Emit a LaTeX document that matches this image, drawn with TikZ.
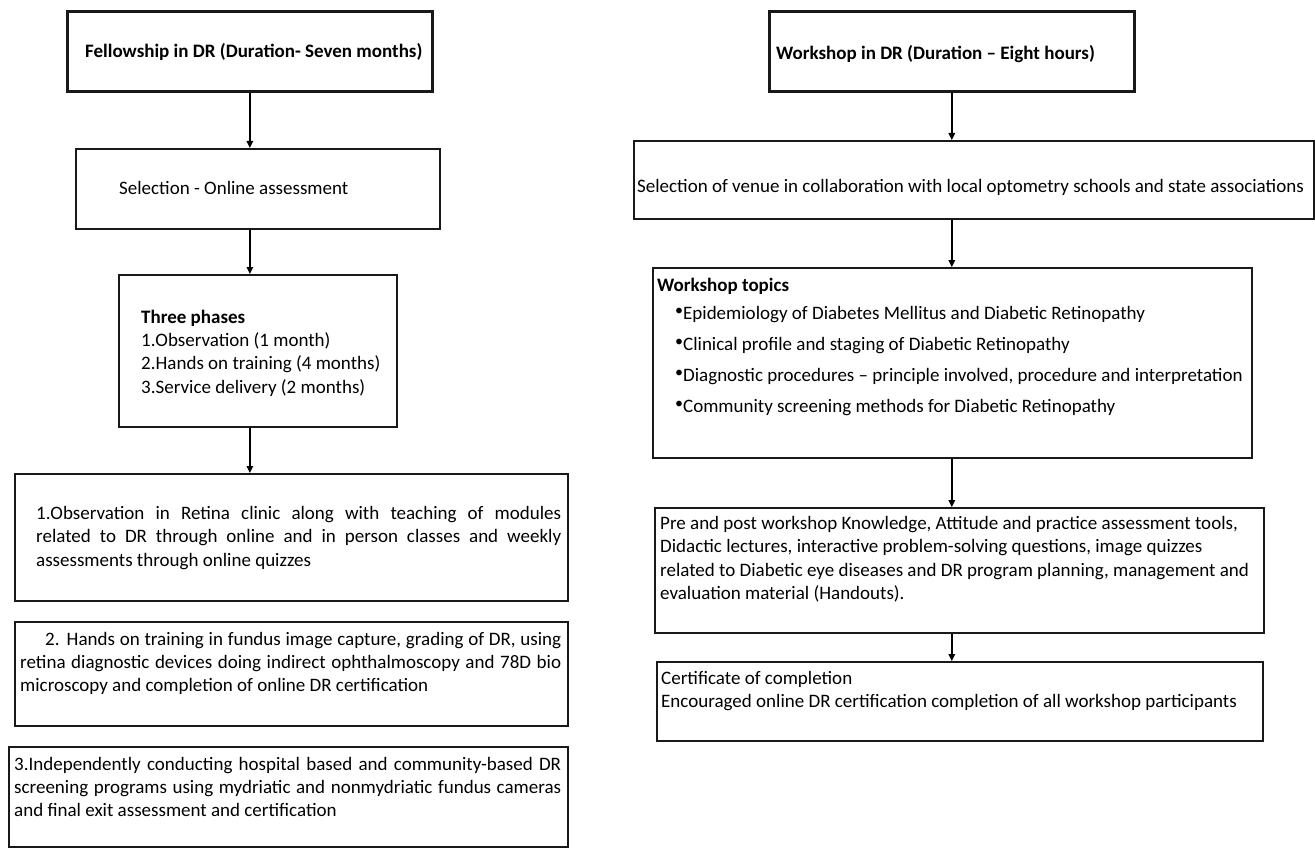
\documentclass[tikz,border=0pt]{standalone}
\usepackage{fontspec}
\setmainfont{Carlito}
\usetikzlibrary{arrows.meta}
\begin{document}
\begin{tikzpicture}[x=1pt,y=-1pt,
  boxL/.style={draw=black!90,line width=2.4pt,anchor=north west,inner sep=0pt},
  boxR/.style={draw=black!90,line width=1.8pt,anchor=north west,inner sep=0pt},
  txt/.style={inner sep=0pt,anchor=base west,font=\fontsize{19pt}{23.6pt}\selectfont,text=black},
  btxt/.style={txt,font=\fontsize{19pt}{23.6pt}\selectfont\bfseries},
  arr/.style={line width=1.4pt,-{Triangle[length=7pt,width=6.5pt]}}]
\newcommand{\bul}{{\fontsize{16pt}{16pt}\selectfont\raisebox{4pt}{•}}}
\useasboundingbox (0,0) rectangle (1315,848);
% ---------- left column boxes
\node[boxL,line width=2.8pt,minimum width=365pt,minimum height=80pt] (A) at (66,10) {};
\node[boxL,minimum width=364pt,minimum height=80pt] (B) at (75,148) {};
\node[boxL,minimum width=278pt,minimum height=152pt] (C) at (118,274) {};
\node[boxL,minimum width=553pt,minimum height=127pt] (D) at (14,473) {};
\node[boxL,minimum width=553pt,minimum height=104pt] (E) at (14,621) {};
\node[boxL,minimum width=559pt,minimum height=100pt] (F) at (8,746) {};
% ---------- right column boxes
\node[boxL,line width=2.6pt,minimum width=365pt,minimum height=80pt] (G) at (768,10) {};
\node[boxR,minimum width=680pt,minimum height=78pt] (H) at (633,140) {};
\node[boxR,minimum width=599pt,minimum height=190pt] (I) at (652,267) {};
\node[boxR,minimum width=609pt,minimum height=125pt] (J) at (654,507) {};
\node[boxR,minimum width=606pt,minimum height=79pt] (K) at (656,661) {};
% ---------- texts
\node[btxt] (tA) at (85,58) {Fellowship in DR (Duration- Seven months)};
\node[txt] (tB) at (119,194) {Selection - Online assessment};
\node[txt] (tC) at (141,323) {\parbox[t]{250pt}{\fontsize{19pt}{23.4pt}\selectfont\textbf{Three phases}\\1.Observation (1 month)\\2.Hands on training (4 months)\\3.Service delivery (2 months)}};
\node[txt] (tD) at (36,519) {\parbox[t]{525pt}{\fontsize{19pt}{23.8pt}\selectfont
  \makebox[\linewidth][s]{1.Observation in Retina clinic along with teaching of modules}\\
  \makebox[\linewidth][s]{related to DR through online and in person classes and weekly}\\
  assessments through online quizzes}};
\node[txt] (tE) at (20,645) {\parbox[t]{541pt}{\fontsize{19pt}{23.4pt}\selectfont
  \makebox[\linewidth][s]{\hspace*{25pt}2. Hands on training in fundus image capture, grading of DR, using}\\
  \makebox[\linewidth][s]{retina diagnostic devices doing indirect ophthalmoscopy and 78D bio}\\
  microscopy and completion of online DR certification}};
\node[txt] (tF) at (14,770) {\parbox[t]{547pt}{\fontsize{19pt}{23.2pt}\selectfont
  \makebox[\linewidth][s]{3.Independently conducting hospital based and community-based DR}\\
  \makebox[\linewidth][s]{screening programs using mydriatic and nonmydriatic fundus cameras}\\
  and final exit assessment and certification}};
\node[btxt] (tG) at (776,60) {Workshop in DR (Duration -- Eight hours)};
\node[txt] (tH) at (637,193) {Selection of venue in collaboration with local optometry schools and state associations};
\node[btxt] (tI) at (657,291) {Workshop topics};
\node[txt] (b1) at (675,319) {\bul Epidemiology of Diabetes Mellitus and Diabetic Retinopathy};
\node[txt] (b2) at (675,350) {\bul Clinical profile and staging of Diabetic Retinopathy};
\node[txt] (b3) at (675,381) {\bul Diagnostic procedures -- principle involved, procedure and interpretation};
\node[txt] (b4) at (675,412) {\bul Community screening methods for Diabetic Retinopathy};
\node[txt] (tJ) at (660,529) {\parbox[t]{600pt}{\fontsize{19pt}{23.6pt}\selectfont
  Pre and post workshop Knowledge, Attitude and practice assessment tools,\\
  Didactic lectures, interactive problem-solving questions, image quizzes\\
  related to Diabetic eye diseases and DR program planning, management and\\
  evaluation material (Handouts).}};
\node[txt] (tK) at (661,684) {\parbox[t]{600pt}{\fontsize{19pt}{23.6pt}\selectfont
  Certificate of completion\\
  Encouraged online DR certification completion of all workshop participants}};
% ---------- connectors
\draw[arr] (A.south) -- (A.south |- B.north);
\draw[arr] (A.south |- B.south) -- (A.south |- C.north);
\draw[arr] (A.south |- C.south) -- (A.south |- D.north);
\draw[arr] (G.south) -- (G.south |- H.north);
\draw[arr] (G.south |- H.south) -- (G.south |- I.north);
\draw[arr] (G.south |- I.south) -- (G.south |- J.north);
\draw[arr] (G.south |- J.south) -- (G.south |- K.north);
\end{tikzpicture}
\end{document}
